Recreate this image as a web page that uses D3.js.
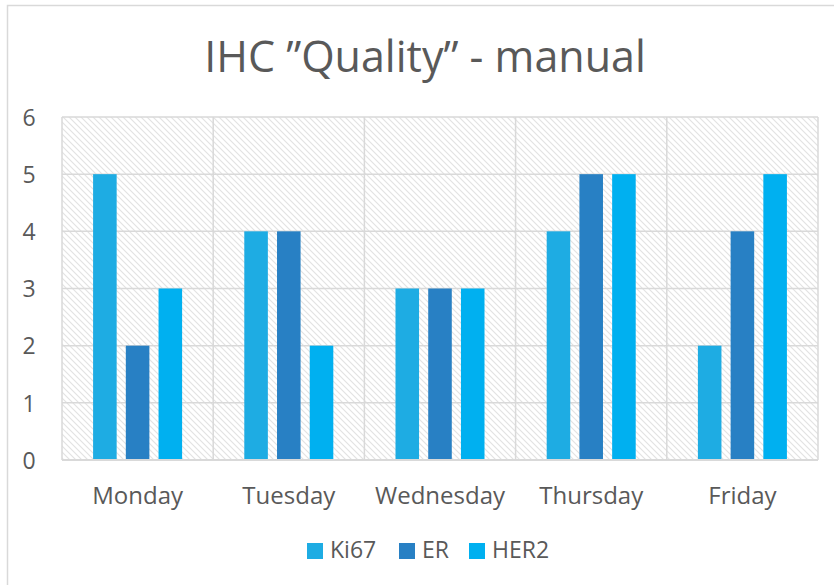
<!DOCTYPE html>
<html><head><meta charset="utf-8">
<script src="https://cdn.jsdelivr.net/npm/d3@7"></script>
<style>body{margin:0;background:#fff;}svg{display:block;font-family:"Open Sans",sans-serif;}</style>
</head><body><svg id="c" width="834" height="585"></svg>
<script>
const categories = ["Monday","Tuesday","Wednesday","Thursday","Friday"];
const seriesNames = ["Ki67","ER","HER2"];
const ki67 = [5,4,3,4,2];
const er = [2,4,3,5,4];
const her2 = [3,2,3,5,5];
const yTicks = [0,1,2,3,4,5,6];
const colors = ["#1EACE3","#2880C4","#00B0F0"];
const seriesValues = [ki67, er, her2];

const svg = d3.select("#c");
const defs = svg.append("defs");
const pat = defs.append("pattern").attr("id","hatch").attr("patternUnits","userSpaceOnUse")
  .attr("width",6).attr("height",6);
pat.append("rect").attr("width",6).attr("height",6).attr("fill","#fff");
pat.append("path").attr("d","M-1,-1 L7,7 M-1,5 L1,7 M5,-1 L7,1")
  .attr("stroke","#e2e2e2").attr("stroke-width",1.1);

// outer border
svg.append("path").attr("d","M7.5,590 L7.5,5.5 L840,5.5").attr("fill","none").attr("stroke","#d9d9d9").attr("stroke-width",1.5);

const x0 = 62, x1 = 818, yTop = 117, yBot = 460;
const x = d3.scaleBand().domain(categories).range([x0,x1]);
const y = d3.scaleLinear().domain([0,6]).range([yBot,yTop]);
const xs = d3.scaleBand().domain(seriesNames).range([0,x.bandwidth()]).paddingInner(0.28).paddingOuter(0.95);

svg.append("rect").attr("x",x0).attr("y",yTop).attr("width",x1-x0).attr("height",yBot-yTop).attr("fill","url(#hatch)");

// gridlines
svg.append("g").selectAll("line").data(yTicks).join("line")
  .attr("x1",x0).attr("x2",x1).attr("y1",d=>y(d)).attr("y2",d=>y(d))
  .attr("stroke","#d9d9d9").attr("stroke-width",1.5);
svg.append("g").selectAll("line").data(categories.concat(["_end"])).join("line")
  .attr("x1",(d,i)=> i<categories.length ? x(d) : x1).attr("x2",(d,i)=> i<categories.length ? x(d) : x1)
  .attr("y1",yTop).attr("y2",yBot)
  .attr("stroke","#d9d9d9").attr("stroke-width",1.5);

// bars
seriesNames.forEach((s,si)=>{
  svg.append("g").selectAll("rect").data(seriesValues[si]).join("rect")
    .attr("x",(d,i)=>x(categories[i])+xs(s))
    .attr("width",xs.bandwidth())
    .attr("y",d=>y(d)).attr("height",d=>yBot-y(d))
    .attr("fill",colors[si]);
});

// axis line
svg.append("line").attr("x1",x0).attr("x2",x1).attr("y1",yBot).attr("y2",yBot).attr("stroke","#d9d9d9").attr("stroke-width",2);

// y labels
const yAxis = d3.axisLeft(y).tickValues(yTicks).tickSize(0).tickPadding(0).tickFormat(d3.format("d"));
const ga = svg.append("g").attr("transform","translate(29,0)").call(yAxis);
ga.select(".domain").remove();
ga.selectAll("text").attr("fill","#595959").attr("font-size","23px").attr("font-family","Open Sans, sans-serif").attr("text-anchor","middle").attr("dy","0.36em");

// x labels
const xAxis = d3.axisBottom(x).tickSize(0).tickPadding(0);
const gx = svg.append("g").attr("transform","translate(0,487)").call(xAxis);
gx.select(".domain").remove();
gx.selectAll("text").attr("fill","#595959").attr("font-size","24px").attr("font-family","Open Sans, sans-serif").attr("dy","0.71em");

// title
svg.append("text").attr("x",425).attr("y",72).attr("text-anchor","middle")
  .attr("fill","#595959").attr("font-size","43px").attr("font-family","Open Sans, sans-serif")
  .text("IHC ”Quality” - manual");

// legend
const legendX = [307,399,469];
const lg = svg.append("g");
seriesNames.forEach((s,i)=>{
  lg.append("rect").attr("x",legendX[i]).attr("y",543).attr("width",16).attr("height",16).attr("fill",colors[i]);
  lg.append("text").attr("x",legendX[i]+23).attr("y",558).attr("fill","#595959").attr("font-size","23px").text(s);
});
</script></body></html>
